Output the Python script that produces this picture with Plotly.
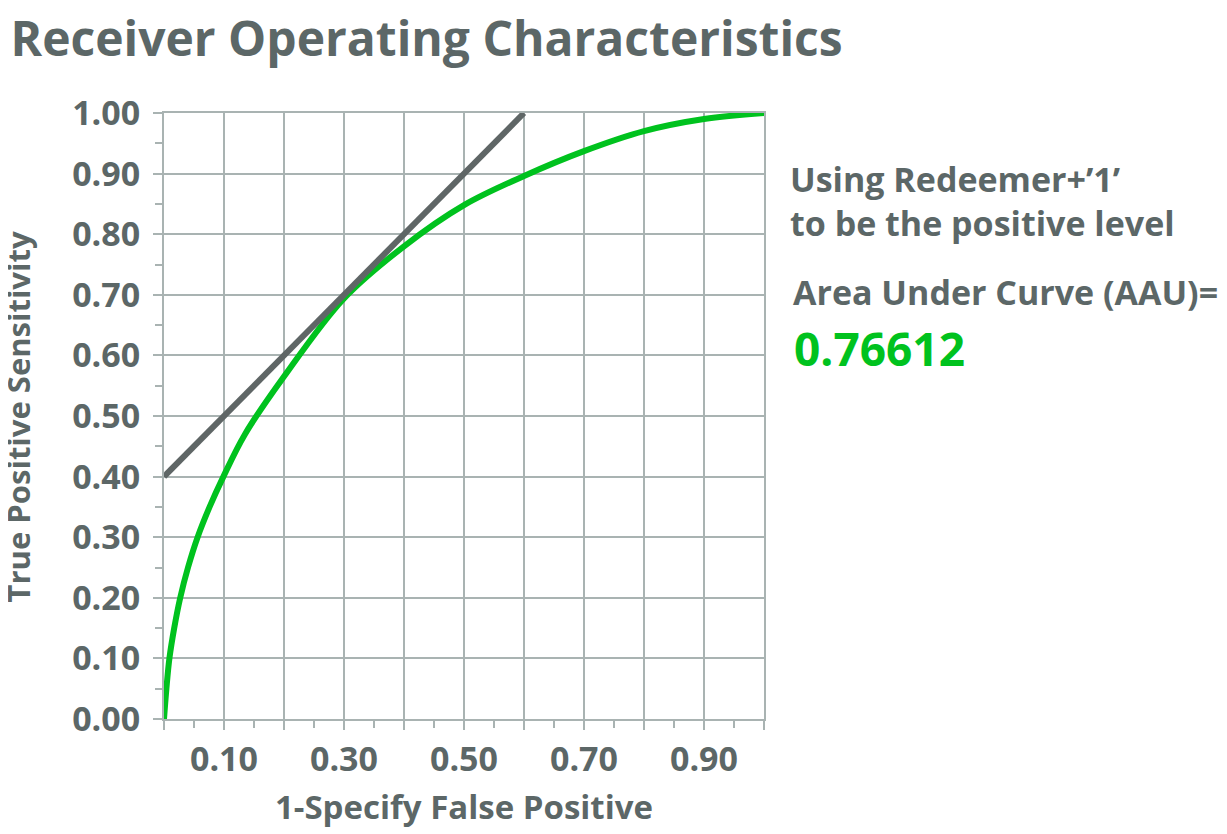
import plotly.graph_objects as go

# ROC curve
fpr = [0.0, 0.004, 0.009, 0.017, 0.027, 0.040, 0.056, 0.076, 0.099, 0.135,
       0.2, 0.3, 0.4, 0.5, 0.6, 0.7, 0.8, 0.9, 1.0]
tpr = [0.0, 0.05, 0.10, 0.15, 0.20, 0.25, 0.30, 0.35, 0.40, 0.47,
       0.565, 0.694, 0.78, 0.848, 0.896, 0.937, 0.97, 0.99, 1.0]

# straight reference line
ref_x = [0.0, 0.6]
ref_y = [0.4, 1.0]

x_ticks = [0.0, 0.1, 0.2, 0.3, 0.4, 0.5, 0.6, 0.7, 0.8, 0.9, 1.0]
x_labels = ["", "0.10", "", "0.30", "", "0.50", "", "0.70", "", "0.90", ""]
y_ticks = [0.0, 0.1, 0.2, 0.3, 0.4, 0.5, 0.6, 0.7, 0.8, 0.9, 1.0]
y_labels = ["0.00", "0.10", "0.20", "0.30", "0.40", "0.50",
            "0.60", "0.70", "0.80", "0.90", "1.00"]

auc = "0.76612"

TEXT = "#5c6767"
GRID = "#a9b3b2"
GREEN = "#00c21e"
LINE_GRAY = "#5f6666"
FONT = "Open Sans"

fig = go.Figure()

fig.add_trace(go.Scatter(x=fpr, y=tpr, mode="lines", line_shape="spline",
                         line=dict(color=GREEN, width=6), name="ROC"))
fig.add_trace(go.Scatter(x=ref_x, y=ref_y, mode="lines",
                         line=dict(color=LINE_GRAY, width=6), name="Reference"))

axis_common = dict(
    showgrid=True, gridcolor=GRID, gridwidth=2,
    showline=True, linecolor=GRID, linewidth=2, mirror=True,
    ticks="outside", ticklen=9, tickwidth=2, tickcolor=GRID,
    zeroline=False, automargin=False,
    tickfont=dict(family=FONT, size=34, color=TEXT, weight="bold"),
    minor=dict(ticks="outside", ticklen=7, tickwidth=2, tickcolor=GRID,
               dtick=0.05, tick0=0, showgrid=False),
)

fig.update_layout(
    width=1219, height=826,
    margin=dict(l=156, r=463, t=105, b=115),
    paper_bgcolor="white", plot_bgcolor="white",
    showlegend=False,
    title=dict(text="Receiver Operating Characteristics",
               font=dict(family=FONT, size=48, color=TEXT, weight="bold"),
               x=0.002, xanchor="left", yref="container", y=0.962, yanchor="middle"),
    xaxis=dict(range=[0, 1], tickmode="array", tickvals=x_ticks, ticktext=x_labels,
               title=dict(text="1-Specify False Positive", standoff=16,
                          font=dict(family=FONT, size=33, color=TEXT, weight="bold")),
               **axis_common),
    yaxis=dict(range=[0, 1], tickmode="array", tickvals=y_ticks, ticktext=y_labels,
               ticklabelstandoff=6, **axis_common),
)

# y axis title placed by hand so it sits at the far left like the original
fig.add_annotation(text="True Positive Sensitivity", textangle=-90,
                   xref="paper", yref="paper", x=-0.243, y=0.498,
                   xanchor="center", yanchor="middle", showarrow=False,
                   font=dict(family=FONT, size=31, color=TEXT, weight="bold"))

note_font = dict(family=FONT, size=34, color=TEXT, weight="bold")
fig.add_annotation(text="Using Redeemer+’1’<br>to be the positive level",
                   xref="paper", yref="paper", x=1.04, y=0.855,
                   xanchor="left", yanchor="middle", align="left",
                   showarrow=False, font=note_font)
fig.add_annotation(text="Area Under Curve (AAU)=",
                   xref="paper", yref="paper", x=1.045, y=0.704,
                   xanchor="left", yanchor="middle", align="left",
                   showarrow=False, font=note_font)
fig.add_annotation(text=auc,
                   xref="paper", yref="paper", x=1.047, y=0.612,
                   xanchor="left", yanchor="middle", align="left",
                   showarrow=False,
                   font=dict(family=FONT, size=46, color=GREEN, weight="bold"))

fig.write_html("out.html")
